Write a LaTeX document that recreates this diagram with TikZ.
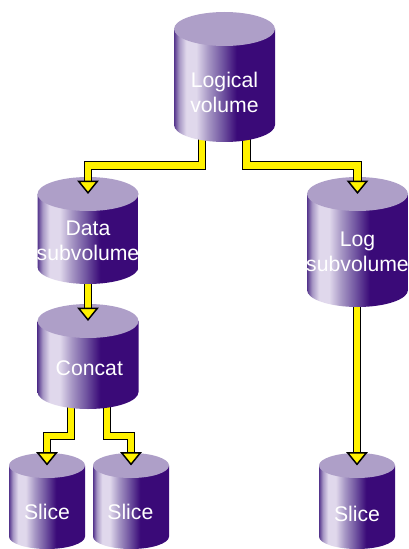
\documentclass[tikz,border=0pt]{standalone}
\usepackage{fontspec}
\setmainfont{Liberation Sans}
\usepackage{tikz}
\usetikzlibrary{arrows.meta}
\definecolor{drumtop}{RGB}{174,159,200}
\definecolor{drumdark}{RGB}{58,10,120}
\definecolor{drumedge}{RGB}{84,52,140}
\definecolor{drumlight}{RGB}{224,216,236}
\definecolor{drummid}{RGB}{166,150,196}
\definecolor{drumlow}{RGB}{112,84,160}
% the path covers only the middle 50bp of a shading
\pgfdeclarehorizontalshading{drumshade}{100bp}{
  color(0bp)=(drumedge); color(25bp)=(drumedge); color(27.5bp)=(drummid); color(31bp)=(drumlight);
  color(36bp)=(drumlight); color(42bp)=(drummid); color(49bp)=(drumlow);
  color(56bp)=(drumdark); color(100bp)=(drumdark)}
\tikzset{
  pipe/.style={draw=black,double=yellow,double distance=4.6pt,line width=1pt,line join=miter,
    -{Triangle[length=10pt,width=16pt,fill=yellow,line width=1.1pt]}},
  drumlabel/.style={text=white,align=center,font=\fontsize{15.9}{18.75}\selectfont}
}
% name, x, y of top centre, half width, top radius, body height, text shift, text
\newcommand{\drum}[8]{
  \begin{scope}[shift={(#2,#3)}]
    \pgfmathsetmacro{\drumh}{(#6+#5)*0.75}
    \pgfmathsetmacro{\drumw}{#4*1.5}
    \shade[shading=drumshade] (-#4,0) -- (-#4,#6) arc[start angle=180,end angle=0,x radius=#4,y radius=#5] -- (#4,0) -- cycle ;
    \fill[drumtop] (0,0) ellipse [x radius=#4,y radius=#5] ;
    \node (#1) [minimum width=\drumw pt,minimum height=\drumh pt,inner sep=0pt,anchor=north,
      label={[drumlabel,#7]center:{#8}}] at (0,0) {};
  \end{scope}
}
\begin{document}
\begin{tikzpicture}[x=0.75pt,y=0.75pt,yscale=-1,xscale=1]
\useasboundingbox (0,0) rectangle (408,549);
% pipe starts, hidden under the drum they leave
\coordinate (logicalL) at (202,130);
\coordinate (logicalR) at (246.5,130);
\coordinate (dataB) at (88,275);
\coordinate (logB) at (357,295);
\coordinate (concatL) at (71,400);
\coordinate (concatR) at (107,400);
%Slices
\drum{slicea}{47}{465.5}{38}{12.5}{71}{yshift=-3.2pt}{Slice}
\drum{sliceb}{131}{465.5}{38}{12.5}{71}{yshift=-3.2pt,xshift=-0.5pt}{Slice}
\drum{slicec}{357}{465.5}{38}{12.5}{71}{yshift=-4.7pt}{Slice}
%Concat and its pipes
\draw[pipe] (concatL) -- (concatL |- 0,436) -| (slicea.north);
\draw[pipe] (concatR) -- (concatR |- 0,436) -| (sliceb.north);
\drum{concat}{88}{321}{50.5}{17}{71}{yshift=-2.2pt,xshift=1pt}{Concat}
%Subvolumes
\draw[pipe] (dataB) -- (concat.north);
\drum{data}{88}{194}{50.5}{17}{73}{yshift=-1pt}{Data\\subvolume}
\draw[pipe] (logB) -- (slicec.north);
\drum{logsub}{357.5}{194}{50.5}{17}{96}{yshift=-1pt}{Log\\subvolume}
%Top volume
\draw[pipe] (logicalL) -- (logicalL |- 0,165.5) -| (data.north);
\draw[pipe] (logicalR) -- (logicalR |- 0,165.5) -| (logsub.north);
\drum{logical}{224.5}{29}{50.5}{17}{96}{yshift=-5pt}{Logical\\volume}
\end{tikzpicture}
\end{document}
